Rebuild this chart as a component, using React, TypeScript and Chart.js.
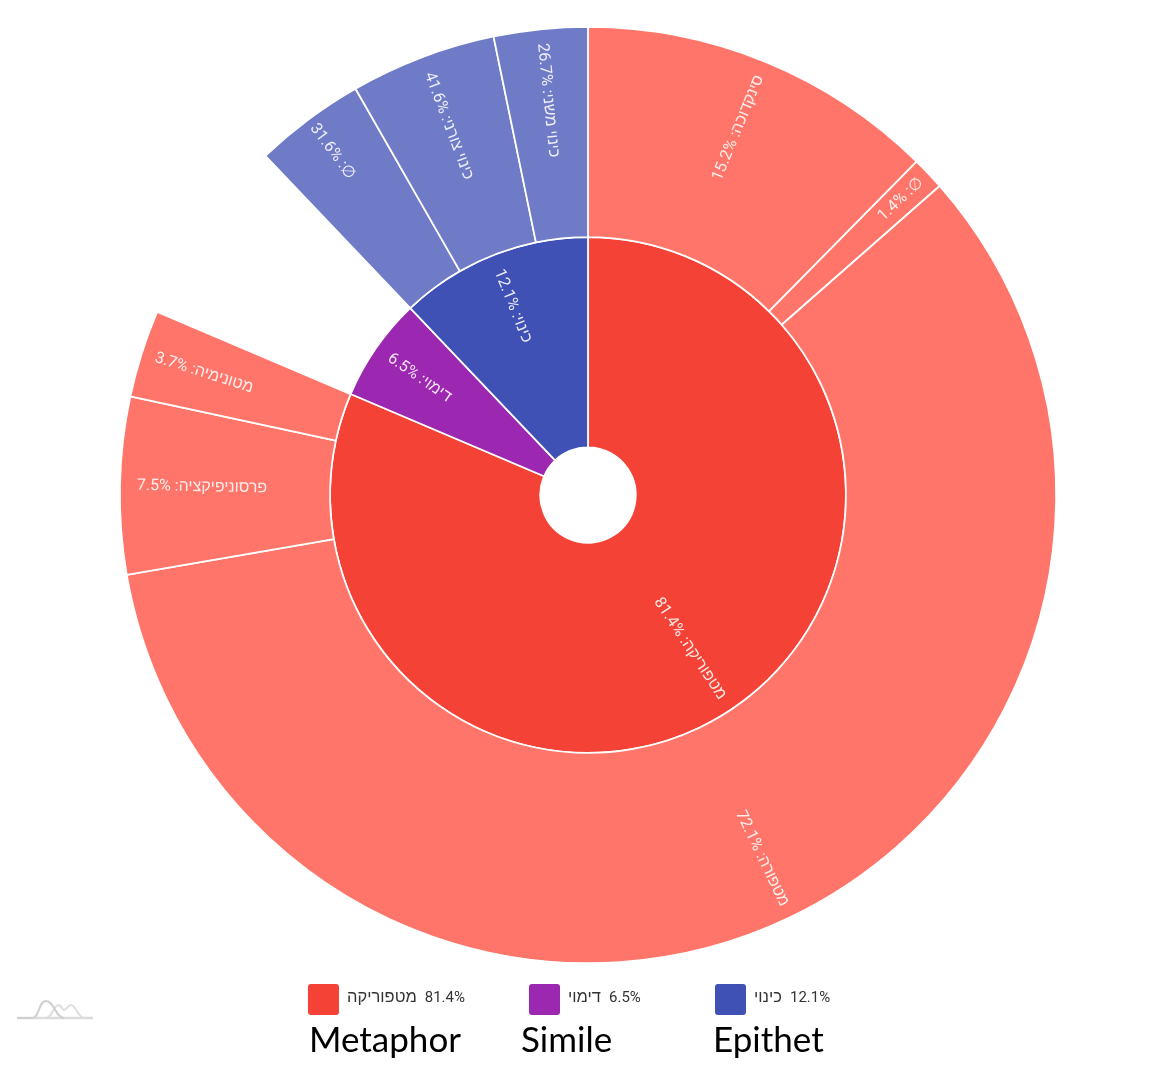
import { useEffect, useRef } from "react"
import { Chart, registerables } from "chart.js"

Chart.register(...registerables)

// inner ring, share of the whole circle
const groupNames = ["מטפוריקה", "דימוי", "כינוי"]
const groupValues = [81.4, 6.5, 12.1]

// outer ring, share of the parent group (clockwise from the top)
const metaphorNames = ["סינקדוכה", "∅", "מטפורה", "פרסוניפיקציה", "מטונימיה"]
const metaphorValues = [15.2, 1.4, 72.1, 7.5, 3.7]
const epithetNames = ["∅", "כינוי צורני", "כינוי משני"]
const epithetValues = [31.6, 41.6, 26.7]

const legendNames = ["Metaphor", "Simile", "Epithet"]

const RED = "#F44336"
const RED_LIGHT = "#FF7569"
const PURPLE = "#9C27B0"
const BLUE = "#3F51B5"
const BLUE_LIGHT = "#707BC8"

// how far along the ring thickness each label sits
const outerLabelPos = [0.66, 0.82, 0.69, 0.61, 0.69, 0, 0.81, 0.65, 0.66]
const innerLabelPos = [0.65, 0.75, 0.74]

const outerData = [
  ...metaphorValues.map((v) => (v * groupValues[0]) / 100),
  groupValues[1],
  ...epithetValues.map((v) => (v * groupValues[2]) / 100),
]
const outerLabels = [
  ...metaphorNames.map((n, i) => `${n}: ${metaphorValues[i]}%`),
  "",
  ...epithetNames.map((n, i) => `${n}: ${epithetValues[i]}%`),
]
const innerLabels = groupNames.map((n, i) => `${n}: ${groupValues[i]}%`)

const radialLabels = {
  id: "radialLabels",
  afterDatasetsDraw(chart: Chart) {
    const ctx = chart.ctx
    const rings = [
      { meta: chart.getDatasetMeta(0), labels: outerLabels, pos: outerLabelPos },
      { meta: chart.getDatasetMeta(1), labels: innerLabels, pos: innerLabelPos },
    ]
    ctx.save()
    ctx.font = '16px Roboto, "Liberation Sans", sans-serif'
    ctx.fillStyle = "rgba(255,255,255,0.88)"
    ctx.textAlign = "center"
    ctx.textBaseline = "middle"
    ctx.direction = "rtl"
    rings.forEach(({ meta, labels, pos }) => {
      meta.data.forEach((arc: any, i: number) => {
        if (!labels[i]) return
        const { x, y, startAngle, endAngle, innerRadius, outerRadius } = arc.getProps(
          ["x", "y", "startAngle", "endAngle", "innerRadius", "outerRadius"],
          true
        )
        const mid = (startAngle + endAngle) / 2
        const r = innerRadius + (outerRadius - innerRadius) * pos[i]
        ctx.save()
        ctx.translate(x + Math.cos(mid) * r, y + Math.sin(mid) * r)
        // right half reads outwards, left half reads inwards
        const left = Math.cos(mid) < 0
        ctx.rotate(left ? mid + Math.PI : mid)
        ctx.fillText(labels[i], 0, 0)
        ctx.restore()
      })
    })
    ctx.restore()
  },
}

function SunburstChart() {
  const chartRef = useRef<HTMLCanvasElement>(null)
  const chartInstance = useRef<Chart | null>(null)

  useEffect(() => {
    if (!chartRef.current) return
    if (chartInstance.current) chartInstance.current.destroy()

    const ctx = chartRef.current.getContext("2d")
    if (!ctx) return

    chartInstance.current = new Chart(ctx, {
      type: "doughnut",
      data: {
        labels: outerLabels,
        datasets: [
          {
            data: outerData,
            backgroundColor: outerData.map((_, i) => {
              if (i < metaphorValues.length) return RED_LIGHT
              if (i === metaphorValues.length) return "rgba(0,0,0,0)"
              return BLUE_LIGHT
            }),
            borderColor: outerData.map((_, i) =>
              i === metaphorValues.length ? "rgba(0,0,0,0)" : "#ffffff"
            ),
            borderWidth: 1.75,
          },
          {
            data: groupValues,
            backgroundColor: [RED, PURPLE, BLUE],
            borderColor: "#ffffff",
            borderWidth: 1.75,
          },
        ],
      },
      options: {
        animation: false,
        responsive: false,
        cutout: "10.2%",
        layout: { padding: { left: 119, right: 114, top: 26, bottom: 120 } },
        plugins: {
          legend: { display: false },
          tooltip: { enabled: false },
        },
      },
      plugins: [radialLabels],
    })

    return () => {
      if (chartInstance.current) {
        chartInstance.current.destroy()
        chartInstance.current = null
      }
    }
  }, [])

  return <canvas ref={chartRef} width={1171} height={1084} style={{ display: "block" }} />
}

const legendLeft = [308, 529, 715]
const legendColors = [RED, PURPLE, BLUE]
const captionLeft = [309, 521, 713]

export default function App() {
  useEffect(() => {
    document.body.style.margin = "0"
  }, [])

  return (
    <div style={{ position: "relative", width: 1171, height: 1084, overflow: "hidden", background: "#fff" }}>
      <SunburstChart />
      <svg width="90" height="30" style={{ position: "absolute", left: 10, top: 995 }}>
        <path d="M36 23 C42 23 44 10 48 10 C52 10 52 15 54 15 C56 15 58 10 61 10 C66 10 68 23 74 23" fill="none" stroke="#dedede" strokeWidth="2" />
        <path d="M7 23 H83" fill="none" stroke="#dcdcdc" strokeWidth="2.5" />
        <path d="M7 23 H22 C30 23 28 6 36 6 C44 6 46 23 54 23" fill="none" stroke="#cfcfcf" strokeWidth="2" />
      </svg>
      {groupNames.map((name, i) => (
        <div key={name}>
          <div
            style={{
              position: "absolute",
              left: legendLeft[i],
              top: 984,
              width: 31,
              height: 31,
              borderRadius: 3,
              background: legendColors[i],
            }}
          />
          <div
            style={{
              position: "absolute",
              left: legendLeft[i] + 39,
              top: 988,
              whiteSpace: "nowrap",
              fontFamily: 'Roboto, "Liberation Sans", sans-serif',
              fontSize: 16.5,
              lineHeight: "18px",
              color: "#333",
              direction: "ltr",
            }}
          >
            <span style={{ display: "inline-block" }}>{name}</span>
            <span style={{ display: "inline-block", marginLeft: 8, fontSize: 15 }}>{groupValues[i]}%</span>
          </div>
          <div
            style={{
              position: "absolute",
              left: captionLeft[i],
              top: 1017,
              whiteSpace: "nowrap",
              fontFamily: "Lato, sans-serif",
              fontSize: 35,
              lineHeight: "42px",
              color: "#000",
            }}
          >
            {legendNames[i]}
          </div>
        </div>
      ))}
    </div>
  )
}
